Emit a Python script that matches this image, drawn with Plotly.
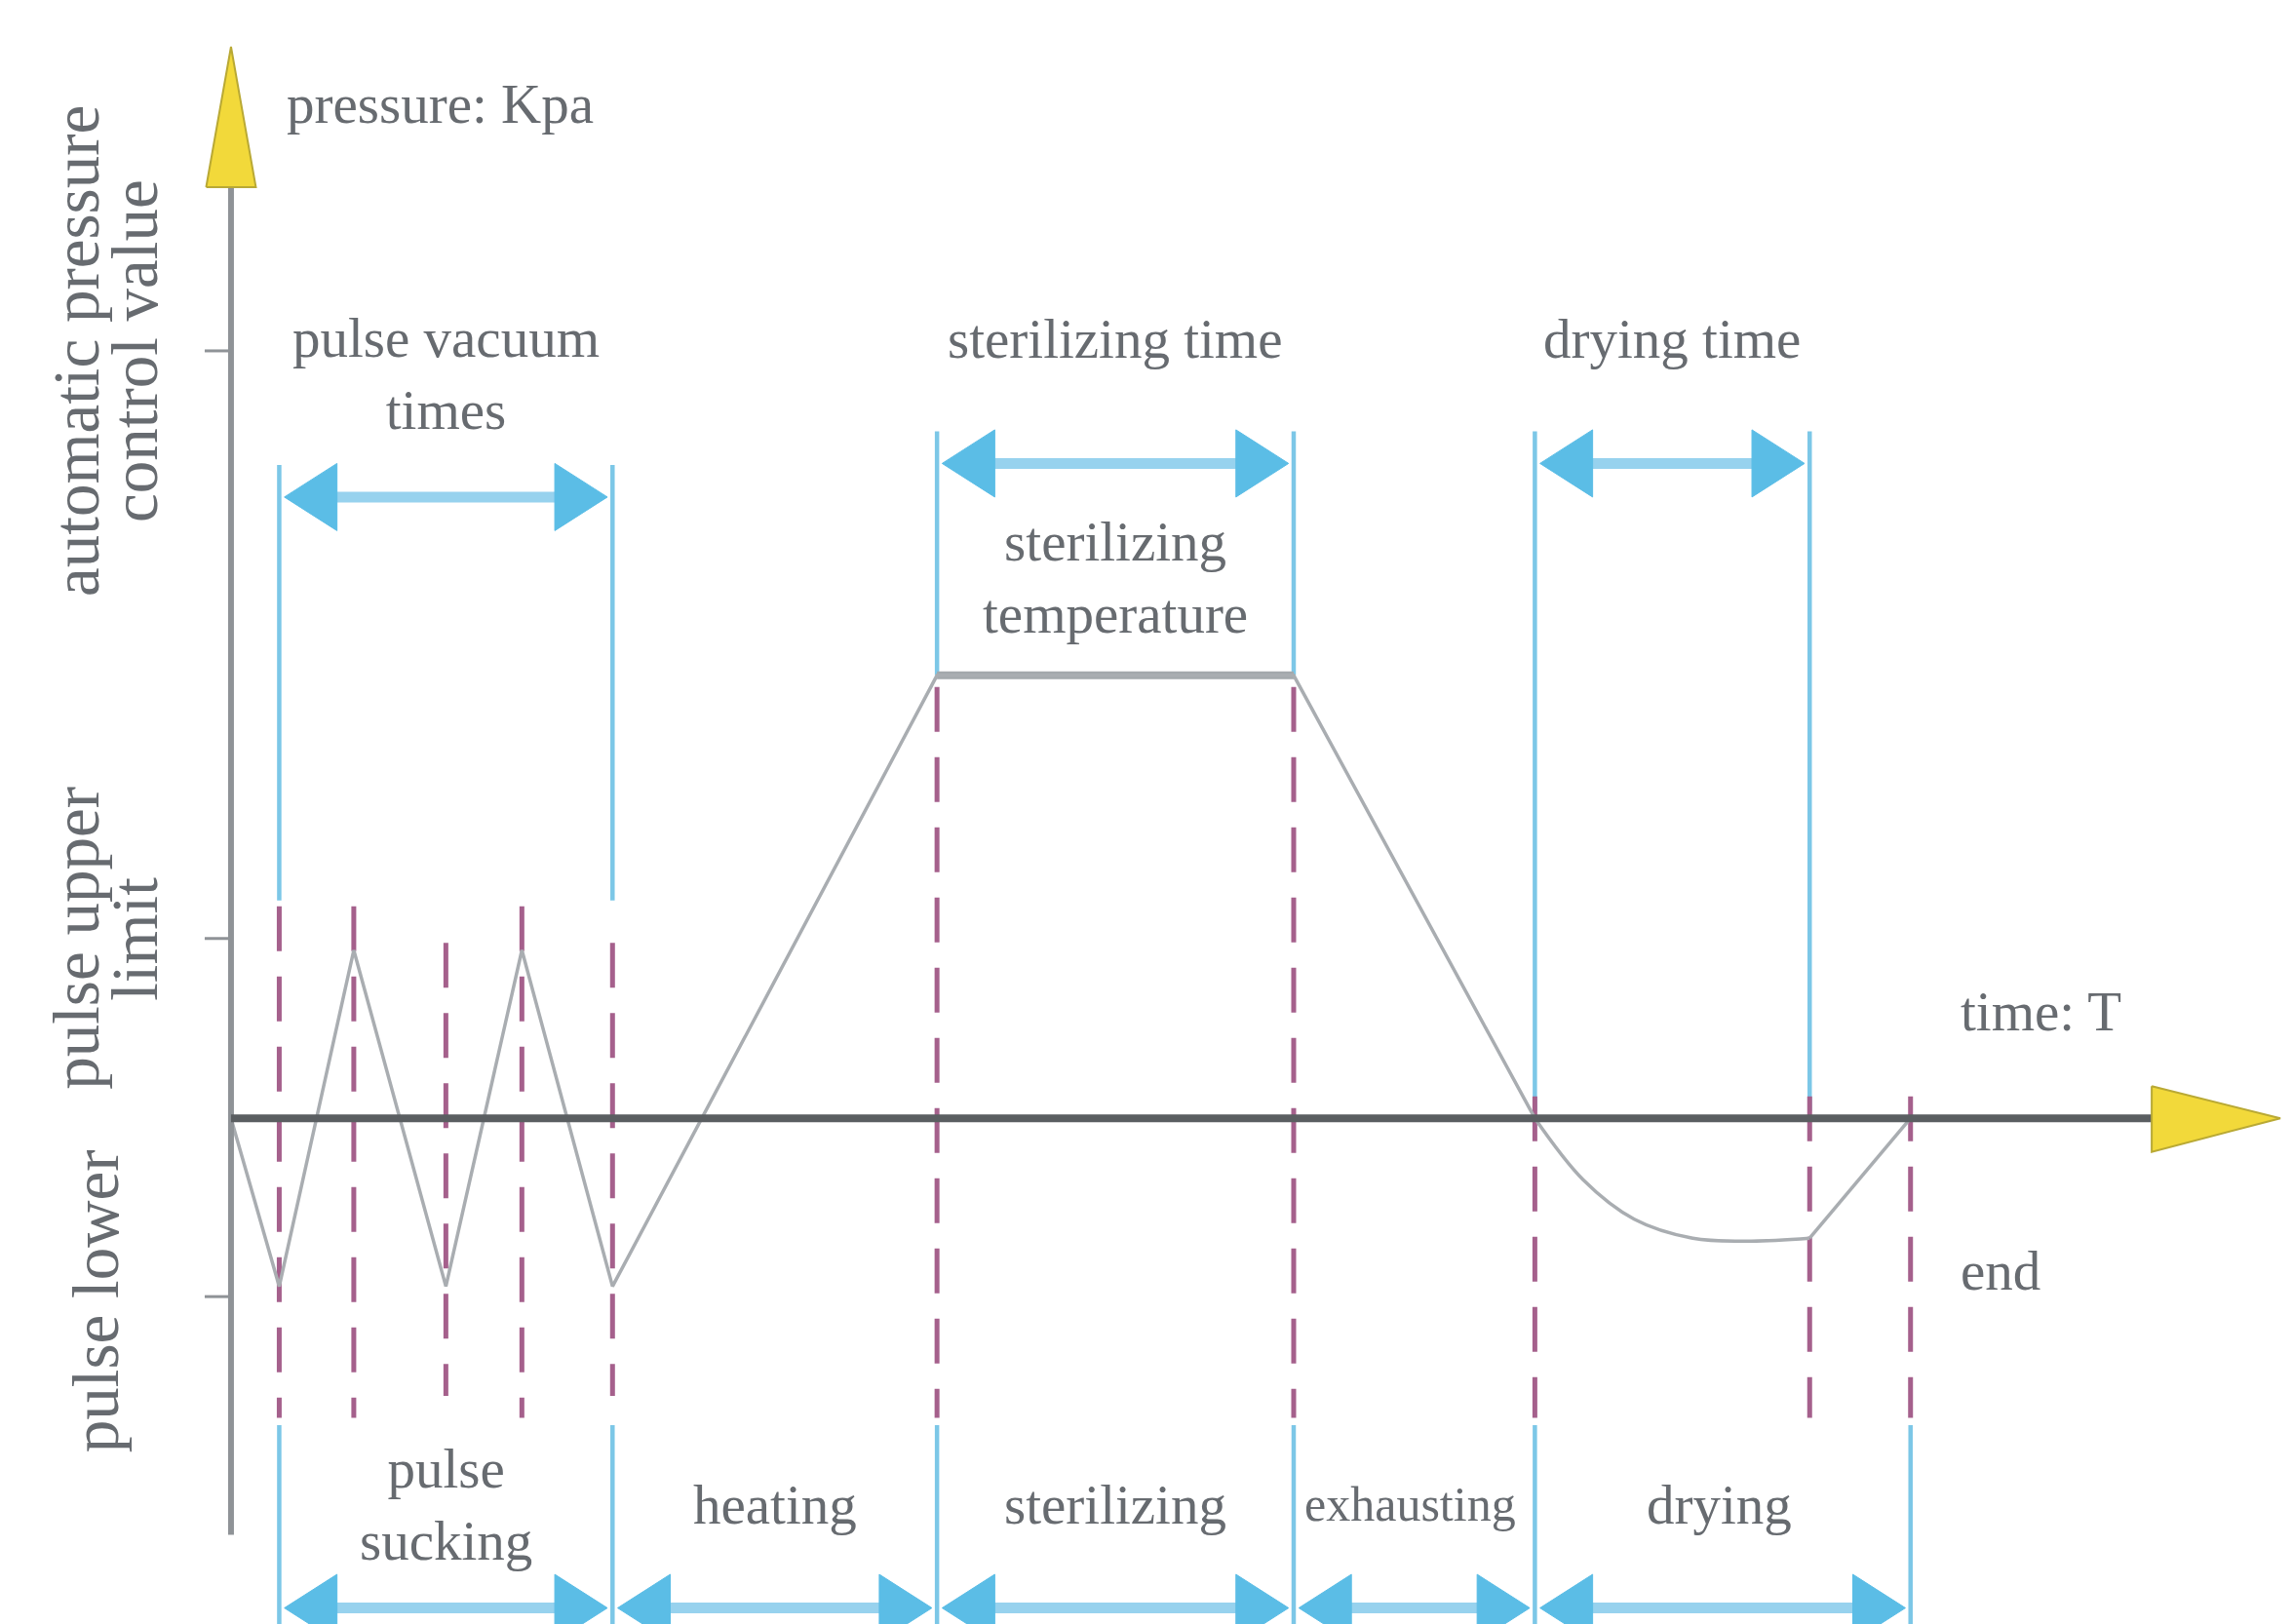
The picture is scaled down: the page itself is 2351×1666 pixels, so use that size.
import plotly.graph_objects as go

# ---- data (time units, pressure units) ----
event_t = [3.3, 8.4, 14.7, 19.9, 26.1, 48.3, 72.7, 89.2, 108.0, 114.9]
dash_top = [14.5, 14.5, 12.0, 14.5, 12.0, 29.5, 29.5, 1.5, 1.5, 1.5]
dash_bottom = [-20.5, -20.5, -19.0, -20.5, -19.0, -20.5, -20.5, -20.5, -20.5, -20.5]

curve_t = [0, 3.3, 8.4, 14.7, 19.9, 26.1, 48.3, 72.7, 89.2]
curve_p = [0, -11.5, 11.5, -11.5, 11.5, -11.5, 30.3, 30.3, 0]
dry_t = [89.2, 92.5, 96.0, 100.0, 104.0, 108.0]
dry_p = [0, -4.2, -6.9, -8.2, -8.4, -8.2]
end_t = [108.0, 114.9]
end_p = [-8.2, 0]

steril_temp = 30.3
tick_levels = [52.5, 12.3, -12.2]
# rotated axis labels: one entry per text line
axis_label_lines = ["automatic pressure", "control value", "pulse upper", "limit", "pulse lower"]
axis_label_x = [-10.6, -6.6, -10.6, -6.6, -9.3]
axis_label_y = [52.5, 52.5, 12.3, 12.3, -12.5]

# top interval markers
top_start = [3.3, 48.3, 89.2]
top_end = [26.1, 72.7, 108.0]
top_line_bottom = [14.9, 30.3, 0.5]
top_line_top = [44.7, 47.0, 47.0]
top_arrow_y = [42.5, 44.8, 44.8]
top_labels = ["pulse vacuum<br>times", "sterilizing time", "drying time"]
top_label_y = [50.9, 53.3, 53.3]

# bottom phases
phase_start = [3.3, 26.1, 48.3, 72.7, 89.2]
phase_end = [26.1, 48.3, 72.7, 89.2, 114.9]
phase_labels = ["pulse<br>sucking", "heating", "sterilizing", "exhausting", "drying"]
phase_label_x = [14.7, 37.2, 60.5, 80.7, 101.8]
bottom_arrow_y = -33.5
bottom_line_top = -21.0
bottom_line_bottom = -36.0

# page body has an 8px margin: shift ranges to compensate
X_RANGE = [-15.27, 141.53]
Y_RANGE = [-35.13, 75.97]

CYAN = "#7cc7e7"
CYAN_HEAD = "#5bbde6"
CYAN_SHAFT = "#97d2ee"
MAGENTA = "#a5608c"
TXT = "#676b70"
FONT = "Liberation Serif"

fig = go.Figure()

def seg_trace(xs, ys, color, width, dash=None):
    fig.add_trace(go.Scatter(x=xs, y=ys, mode="lines", hoverinfo="skip", showlegend=False,
                             line=dict(color=color, width=width, dash=dash)))

# cyan top vertical lines
xs, ys = [], []
for a, b, lb, lt in zip(top_start, top_end, top_line_bottom, top_line_top):
    for t in (a, b):
        xs += [t, t, None]
        ys += [lb, lt, None]
seg_trace(xs, ys, CYAN, 4.5)

# cyan bottom vertical lines
xs, ys = [], []
for t in sorted(set(phase_start + phase_end)):
    xs += [t, t, None]
    ys += [bottom_line_top, bottom_line_bottom, None]
seg_trace(xs, ys, CYAN, 4.5)

# magenta dashed lines
xs, ys = [], []
for t, a, b in zip(event_t, dash_top, dash_bottom):
    xs += [t, t, None]
    ys += [a, b, None]
seg_trace(xs, ys, MAGENTA, 5, dash="46px,26px")

# sterilizing temperature plateau (thicker)
seg_trace([curve_t[6], curve_t[7]], [steril_temp, steril_temp], "#a3a8ac", 8)

# pressure curve
seg_trace(curve_t, curve_p, "#a9adb1", 3.5)
fig.add_trace(go.Scatter(x=dry_t, y=dry_p, mode="lines", line_shape="spline", hoverinfo="skip",
                         showlegend=False, line=dict(color="#a9adb1", width=3.5)))
seg_trace(end_t, end_p, "#a9adb1", 3.5)

# axes
seg_trace([0, 0], [-28.5, 64.0], "#8f9397", 6)
seg_trace([0, 131.7], [0, 0], "#5a5e61", 8)
xs, ys = [], []
for lv in tick_levels:
    xs += [-1.8, 0, None]
    ys += [lv, lv, None]
seg_trace(xs, ys, "#8f9397", 3)

# yellow arrow heads
fig.add_trace(go.Scatter(x=[-1.7, 1.7, 0, -1.7], y=[63.7, 63.7, 73.3, 63.7], mode="lines",
                         fill="toself", fillcolor="#f2d93a", line=dict(color="#b9a934", width=2),
                         hoverinfo="skip", showlegend=False))
fig.add_trace(go.Scatter(x=[131.4, 131.4, 140.2, 131.4], y=[2.2, -2.3, 0, 2.2], mode="lines",
                         fill="toself", fillcolor="#f2d93a", line=dict(color="#b9a934", width=2),
                         hoverinfo="skip", showlegend=False))

# double arrows
HL, HH, GAP = 3.6, 2.3, 0.35
def double_arrow(a, b, y):
    seg_trace([a + GAP + 1, b - GAP - 1], [y, y], CYAN_SHAFT, 11)
    for tip, base in ((a + GAP, a + GAP + HL), (b - GAP, b - GAP - HL)):
        fig.add_trace(go.Scatter(x=[tip, base, base, tip], y=[y, y + HH, y - HH, y], mode="lines",
                                 fill="toself", fillcolor=CYAN_HEAD, line=dict(color=CYAN_HEAD, width=1),
                                 hoverinfo="skip", showlegend=False))

for a, b, y in zip(top_start, top_end, top_arrow_y):
    double_arrow(a, b, y)
for a, b in zip(phase_start, phase_end):
    double_arrow(a, b, bottom_arrow_y)

def label(x, y, text, size=57, angle=0, xanchor="center"):
    fig.add_annotation(x=x, y=y, text=text, showarrow=False, textangle=angle, xanchor=xanchor,
                       yanchor="middle", font=dict(family=FONT, size=size, color=TXT))

label(3.7, 69.4, "pressure: Kpa", xanchor="left")
label(118.2, 7.3, "time: T", xanchor="left")
label(118.2, -10.4, "end", xanchor="left")

top_label_x = [(a + b) / 2 for a, b in zip(top_start, top_end)]
for x, y, txt in zip(top_label_x, top_label_y, top_labels):
    label(x, y, txt)
label(60.5, 37.0, "sterilizing<br>temperature")

for x, txt in zip(phase_label_x, phase_labels):
    label(x, -26.4, txt, size=50 if txt == "exhausting" else 57)

for x, y, txt in zip(axis_label_x, axis_label_y, axis_label_lines):
    label(x, y, txt, size=67, angle=-90)

fig.update_xaxes(range=X_RANGE, visible=False, showgrid=False, zeroline=False)
fig.update_yaxes(range=Y_RANGE, visible=False, showgrid=False, zeroline=False)
fig.update_layout(width=2351, height=1666, margin=dict(l=0, r=0, t=0, b=0),
                  plot_bgcolor="white", paper_bgcolor="white", showlegend=False)

fig.write_html("out.html")
